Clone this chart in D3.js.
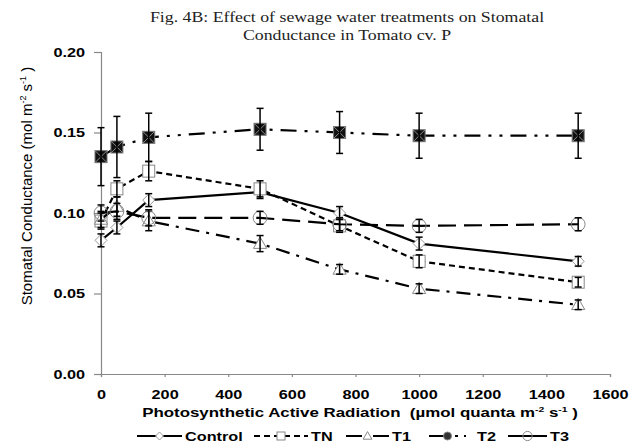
<!DOCTYPE html>
<html>
<head>
<meta charset="utf-8">
<script src="https://cdn.jsdelivr.net/npm/d3@7"></script>
<style>
  body { margin: 0; background: #fff; }
  svg { display: block; }
</style>
</head>
<body>
<div id="chart"></div>
<script>
// PAR levels
const par = [0, 50, 150, 500, 750, 1000, 1500];

// stomatal conductance per treatment
const control = [0.083, 0.091, 0.108, 0.113, 0.100, 0.081, 0.070];
const tn      = [0.095, 0.115, 0.126, 0.115, 0.092, 0.070, 0.057];
const t1      = [0.096, 0.104, 0.095, 0.081, 0.065, 0.053, 0.043];
const t2      = [0.135, 0.141, 0.147, 0.152, 0.150, 0.148, 0.148];
const t3      = [0.100, 0.101, 0.097, 0.097, 0.093, 0.092, 0.093];

// error bars
const controlErr = [0.004, 0.004, 0.004, 0.004, 0.004, 0.004, 0.003];
const tnErr      = [0.005, 0.005, 0.006, 0.005, 0.004, 0.004, 0.003];
const t1Err      = [0.005, 0.006, 0.006, 0.005, 0.003, 0.003, 0.003];
const t2Err      = [0.018, 0.019, 0.015, 0.013, 0.013, 0.014, 0.014];
const t3Err      = [0.005, 0.005, 0.005, 0.004, 0.004, 0.004, 0.004];

const xTicks = [0, 200, 400, 600, 800, 1000, 1200, 1400, 1600];
const yTicks = [0, 0.05, 0.10, 0.15, 0.20];

const series = [
  { name: 'Control', values: control, err: controlErr, dash: null,            marker: 'diamond' },
  { name: 'TN',      values: tn,      err: tnErr,      dash: '6,4',           marker: 'square' },
  { name: 'T1',      values: t1,      err: t1Err,      dash: '14,7,3,7',      marker: 'triangle' },
  { name: 'T2',      values: t2,      err: t2Err,      dash: '16,8,3,8,3,8',  marker: 'xsquare' },
  { name: 'T3',      values: t3,      err: t3Err,      dash: '18,8',          marker: 'circle' }
];

const width = 632, height = 445;
const margin = { top: 52, right: 22, bottom: 71, left: 101 };
const w = width - margin.left - margin.right;
const h = height - margin.top - margin.bottom;
const sx = 1.25;  // the original is stretched sideways
const sans = '"Liberation Sans", Arial, sans-serif';

const svg = d3.select('#chart').append('svg')
  .attr('width', width)
  .attr('height', height);

const g = svg.append('g').attr('transform', `translate(${margin.left},${margin.top})`);

const x = d3.scaleLinear().domain([0, 1600]).range([0, w]);
const y = d3.scaleLinear().domain([0, 0.20]).range([h, 0]);

// title
const titleLines = ['Fig. 4B: Effect of sewage water treatments on Stomatal', 'Conductance in Tomato cv. P'];
titleLines.forEach((t, i) => {
  svg.append('g')
    .attr('transform', `translate(347,${22 + i * 18}) scale(1.27,1)`)
    .append('text')
    .attr('text-anchor', 'middle')
    .style('font-family', '"Liberation Serif", "Times New Roman", serif')
    .style('font-size', '14px')
    .attr('fill', '#222')
    .text(t);
});

// axes
const yAxis = g.append('g')
  .call(d3.axisLeft(y).tickValues(yTicks).tickSize(7).tickFormat(d3.format('.2f')));
const xAxis = g.append('g')
  .attr('transform', `translate(0,${h})`)
  .call(d3.axisBottom(x).tickValues(xTicks).tickSize(3).tickFormat(d3.format('d')));

[xAxis, yAxis].forEach(a => {
  a.select('.domain').attr('stroke', '#888').attr('stroke-width', 1.2);
  a.selectAll('.tick line').attr('stroke', '#888').attr('stroke-width', 1.2);
  a.selectAll('.tick text')
    .attr('fill', '#000')
    .attr('transform', `scale(${sx},1)`)
    .style('font-family', sans)
    .style('font-size', '13px')
    .style('font-weight', 'bold');
});
yAxis.selectAll('.tick text').attr('x', -16 / sx);
xAxis.selectAll('.tick text').attr('y', 16);

// axis titles
svg.append('g')
  .attr('transform', `translate(360,417) scale(1.3,1)`)
  .append('text')
  .attr('text-anchor', 'middle')
  .style('font-family', sans)
  .style('font-size', '13px')
  .style('font-weight', 'bold')
  .html('Photosynthetic Active Radiation&#160;&#160;(µmol quanta m<tspan dy="-5" font-size="8px">-2</tspan><tspan dy="5"> s</tspan><tspan dy="-5" font-size="8px">-1</tspan><tspan dy="5"> )</tspan>');

svg.append('text')
  .attr('transform', `translate(32,186) rotate(-90)`)
  .attr('text-anchor', 'middle')
  .style('font-family', sans)
  .style('font-size', '15px')
  .html('Stomatal Conductance (mol m<tspan dy="-6" font-size="9px">-2</tspan><tspan dy="6"> s</tspan><tspan dy="-6" font-size="9px">-1</tspan><tspan dy="6"> )</tspan>');

// markers
function drawMarker(sel, type, size) {
  const s = size;
  if (type === 'diamond') {
    sel.append('path').attr('d', `M0,${-s}L${s},0L0,${s}L${-s},0Z`)
      .attr('fill', '#fff').attr('stroke', '#999').attr('stroke-width', 1);
  } else if (type === 'square') {
    sel.append('rect').attr('x', -s).attr('y', -s).attr('width', 2 * s).attr('height', 2 * s)
      .attr('fill', '#fff').attr('stroke', '#888').attr('stroke-width', 1);
  } else if (type === 'triangle') {
    sel.append('path').attr('d', `M0,${-s * 1.1}L${s * 1.1},${s * 0.8}L${-s * 1.1},${s * 0.8}Z`)
      .attr('fill', '#fff').attr('stroke', '#888').attr('stroke-width', 1);
  } else if (type === 'xsquare') {
    sel.append('rect').attr('x', -s).attr('y', -s).attr('width', 2 * s).attr('height', 2 * s)
      .attr('fill', '#111').attr('stroke', '#777').attr('stroke-width', 1);
    sel.append('path').attr('d', `M${-s},${-s}L${s},${s}M${s},${-s}L${-s},${s}`)
      .attr('stroke', '#888').attr('stroke-width', 1);
  } else if (type === 'circle') {
    sel.append('circle').attr('r', s * 1.15)
      .attr('fill', 'none').attr('stroke', '#888').attr('stroke-width', 1);
  } else if (type === 'dot') {
    sel.append('circle').attr('r', s)
      .attr('fill', '#333').attr('stroke', '#888').attr('stroke-width', 1);
  }
}

const line = d3.line().x(d => x(d.x)).y(d => y(d.y));

series.forEach(s => {
  const pts = par.map((p, i) => ({ x: p, y: s.values[i], e: s.err[i] }));
  const sg = g.append('g');

  sg.append('path')
    .datum(pts)
    .attr('d', line)
    .attr('fill', 'none')
    .attr('stroke', '#000')
    .attr('stroke-width', 2.2)
    .attr('stroke-dasharray', s.dash);

  pts.forEach(p => {
    const m = sg.append('g').attr('transform', `translate(${x(p.x)},${y(p.y)})`);
    drawMarker(m, s.marker, 6);
  });

  // error bars
  pts.forEach(p => {
    const cx = x(p.x);
    sg.append('line')
      .attr('x1', cx).attr('x2', cx)
      .attr('y1', y(p.y + p.e)).attr('y2', y(p.y - p.e))
      .attr('stroke', '#000').attr('stroke-width', 1.5);
    [p.y + p.e, p.y - p.e].forEach(v => {
      sg.append('line')
        .attr('x1', cx - 3.5).attr('x2', cx + 3.5)
        .attr('y1', y(v)).attr('y2', y(v))
        .attr('stroke', '#000').attr('stroke-width', 1.5);
    });
  });
});

// legend
const legendItems = [
  { name: 'Control', x: 137, len: 45, dash: null,        marker: 'diamond' },
  { name: 'TN',      x: 254, len: 54, dash: '6,4',       marker: 'square' },
  { name: 'T1',      x: 346, len: 43, dash: '16,4,3,4',  marker: 'triangle' },
  { name: 'T2',      x: 429, len: 37, dash: '20,6,3,6',  marker: 'dot' },
  { name: 'T3',      x: 508, len: 39, dash: null,        marker: 'circle' }
];
const legend = svg.append('g').attr('transform', 'translate(0,436)');
legendItems.forEach(it => {
  const lg = legend.append('g').attr('transform', `translate(${it.x},0)`);
  lg.append('line')
    .attr('x1', 0).attr('x2', it.len)
    .attr('stroke', '#000').attr('stroke-width', 2)
    .attr('stroke-dasharray', it.dash);
  const m = lg.append('g').attr('transform', `translate(${it.len / 2},0)`);
  drawMarker(m, it.marker, 4);
  lg.append('g')
    .attr('transform', `translate(${it.len + (it.name === 'T2' ? 11 : 3)},4.5) scale(${sx},1)`)
    .append('text')
    .style('font-family', sans)
    .style('font-size', '13px')
    .style('font-weight', 'bold')
    .text(it.name);
});
</script>
</body>
</html>
